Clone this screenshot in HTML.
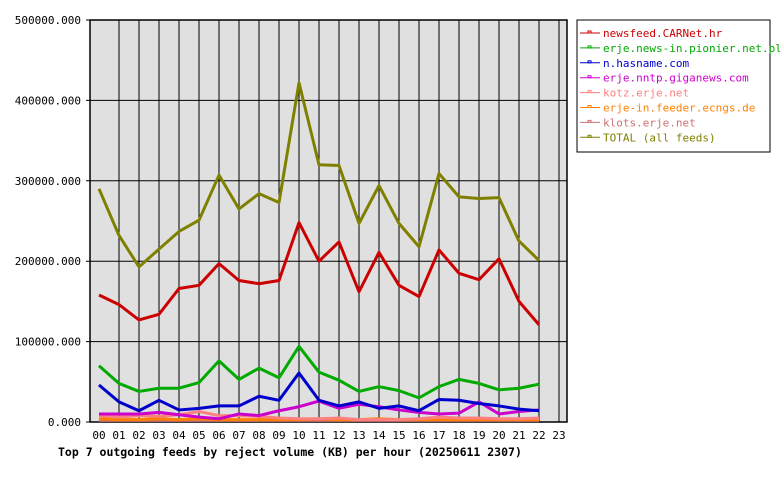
<!DOCTYPE html>
<html><head><meta charset="utf-8"><style>
body{margin:0;background:#fff;}
text{font-family:"DejaVu Sans Mono","Liberation Mono",monospace;}
</style></head><body>
<svg id="c" width="780" height="480" xmlns="http://www.w3.org/2000/svg"></svg>
<script>
const hours=["00","01","02","03","04","05","06","07","08","09","10","11","12","13","14","15","16","17","18","19","20","21","22","23"];
const yTicks=[0,100000,200000,300000,400000,500000];
const seriesNames=["newsfeed.CARNet.hr","erje.news-in.pionier.net.pl","n.hasname.com","erje.nntp.giganews.com","kotz.erje.net","erje-in.feeder.ecngs.de","klots.erje.net","TOTAL (all feeds)"];
const seriesColors=["#cc0000","#00aa00","#0000cc","#cc00cc","#ff8080","#ff8000","#cc7070","#808000"];
const sCarnet=[158000,146000,127000,134000,166000,170000,197000,176000,172000,176000,248000,200000,224000,162000,211000,170000,156000,214000,185000,177000,203000,150000,121000];
const sPionier=[70000,48000,38000,42000,42000,49000,76000,53000,67000,55000,94000,62000,52000,38000,44000,39000,30000,44000,53000,48000,40000,42000,47000];
const sHasname=[46000,25000,14000,27000,15000,17000,20000,20000,32000,27000,61000,27000,20000,25000,17000,20000,14000,28000,27000,23000,20000,16000,14000];
const sGiganews=[10000,10000,10000,12000,9000,6000,4000,10000,8000,14000,19000,26000,17000,22000,19000,15000,12000,10000,11000,25000,10000,13000,15000];
const sKotz=[8000,6000,8000,7000,9000,13000,8000,8000,7000,5000,4000,4000,5000,3000,3000,3000,4000,6000,5000,5000,4000,4000,5000];
const sEcngs=[4000,3000,3000,4000,3000,4000,3000,3000,3000,3000,3000,4000,3000,3000,4000,3000,3000,3000,3000,3000,3000,3000,3000];
const sKlots=[2000,2000,2000,2000,2000,2000,2000,2000,2000,2000,2000,2000,2000,2000,2000,2000,2000,2000,2000,2000,2000,2000,2000];
const sTotal=[290000,232000,193000,215000,237000,251000,307000,265000,284000,273000,422000,320000,319000,247000,294000,247000,218000,309000,280000,278000,279000,225000,201000];
const allSeries=[sCarnet,sPionier,sHasname,sGiganews,sKotz,sEcngs,sKlots,sTotal];

const svg=document.getElementById('c');const NS="http://www.w3.org/2000/svg";
const L=90,R=567,T=20,B=422,YMAX=500000;
const xS=i=>99+20*i;
const yS=v=>B-(v/YMAX)*(B-T);
function mk(tag,a,p){const e=document.createElementNS(NS,tag);for(const k in a)e.setAttribute(k,a[k]);(p||svg).appendChild(e);return e;}
const bg=mk('rect',{x:L,y:T,width:R-L,height:B-T,fill:'#e0e0e0'});


hours.forEach((h,i)=>{
  if(i>0){const g=mk('line',{x1:xS(i)-0.5+0.5,x2:xS(i),y1:T,y2:B,stroke:'#000','stroke-width':1});
  
  }
  const t=mk('text',{x:xS(i),y:439,'font-size':11,'text-anchor':'middle',fill:'#000'});t.textContent=h;
  
  
});
yTicks.forEach(v=>{
  const g=mk('line',{x1:L-4,x2:R,y1:yS(v),y2:yS(v),stroke:'#000','stroke-width':1});
  
  
  const t=mk('text',{x:81,y:yS(v)+4,'font-size':11,'text-anchor':'end',fill:'#000'});t.textContent=v.toFixed(3);
  
  
});
const fr=mk('rect',{x:L,y:T,width:R-L,height:B-T,fill:'none',stroke:'#000','stroke-width':1.5});


[6,5,4,3,2,1,0,7].forEach(si=>{
  const p=mk('polyline',{points:allSeries[si].map((v,i)=>xS(i)+','+yS(v)).join(' '),fill:'none',stroke:seriesColors[si],'stroke-width':3,'stroke-linejoin':'round'});
  
  
});
const lg=mk('rect',{x:577,y:20,width:193,height:132,fill:'#fff',stroke:'#000','stroke-width':1});


seriesNames.forEach((n,i)=>{
  const y=33+i*14.9;
  mk('line',{x1:580,x2:600,y1:y,y2:y,stroke:seriesColors[i],'stroke-width':1});
  mk('rect',{x:588,y:y-2,width:3,height:2,fill:'none',stroke:seriesColors[i],'stroke-width':1});
  const t=mk('text',{x:603,y:y+4,'font-size':11,fill:seriesColors[i]});t.textContent=n;
  
  
});
const ti=mk('text',{x:58,y:456,'font-size':11.5,'font-weight':'bold',fill:'#000'});
ti.textContent="Top 7 outgoing feeds by reject volume (KB) per hour (20250611 2307)";


</script>
</body></html>
